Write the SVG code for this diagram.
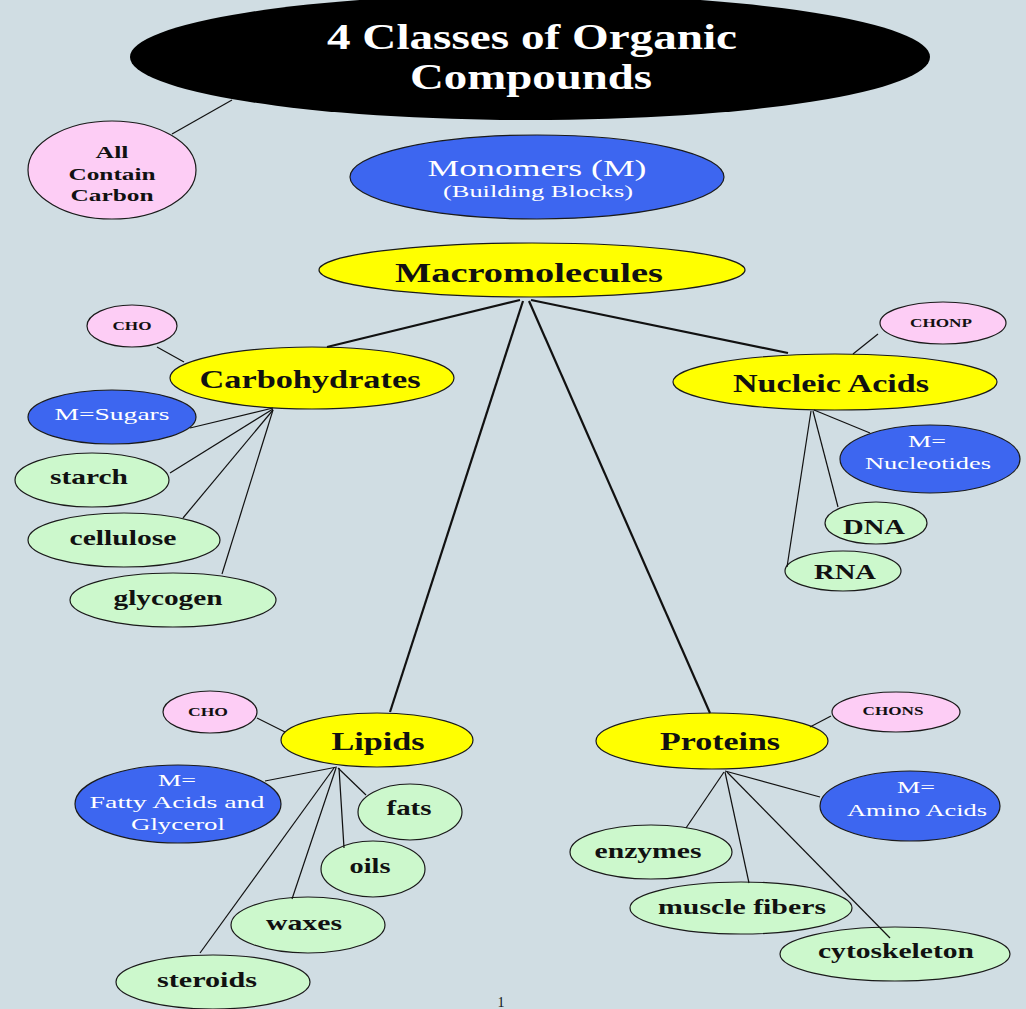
<svg xmlns="http://www.w3.org/2000/svg" width="1026" height="1009" viewBox="0 0 1026 1009">
<style>
.t{font-family:"Liberation Serif","Times New Roman",serif;text-anchor:middle}
.b{font-weight:bold}
.e{stroke:#1a1a1a;stroke-width:1.2}
.pink{fill:#fdcdf5}
.blue{fill:#3d66f0}
.yel{fill:#ffff00}
.grn{fill:#ccf8cc}
.w{fill:#ffffff}
.k{fill:#111111}
.c line{stroke:#111;stroke-width:1.2}
.c line.main{stroke-width:2.2}
</style>
<rect width="1026" height="1009" fill="#d0dde3"/>

<g id="title">
<ellipse cx="530" cy="57" rx="400" ry="63" fill="#000"/>
<text class="t b w" x="532" y="49" font-size="36" textLength="410" lengthAdjust="spacingAndGlyphs">4 Classes of Organic</text>
<text class="t b w" x="531" y="89" font-size="36" textLength="242" lengthAdjust="spacingAndGlyphs">Compounds</text>
</g>

<g id="all-contain-carbon">
<ellipse class="e pink" cx="112" cy="170" rx="84" ry="49"/>
<text class="t b k" x="112" y="158" font-size="17" textLength="33" lengthAdjust="spacingAndGlyphs">All</text>
<text class="t b k" x="112" y="180" font-size="17" textLength="87" lengthAdjust="spacingAndGlyphs">Contain</text>
<text class="t b k" x="112" y="201" font-size="17" textLength="83" lengthAdjust="spacingAndGlyphs">Carbon</text>
</g>

<g id="monomers">
<ellipse class="e blue" cx="537" cy="177" rx="187" ry="42"/>
<text class="t w" x="537" y="176" font-size="24" textLength="219" lengthAdjust="spacingAndGlyphs">Monomers (M)</text>
<text class="t w" x="538" y="197" font-size="17" textLength="190" lengthAdjust="spacingAndGlyphs">(Building Blocks)</text>
</g>

<g id="macromolecules">
<ellipse class="e yel" cx="532" cy="270" rx="213" ry="27"/>
<text class="t b k" x="529" y="282" font-size="27" textLength="268" lengthAdjust="spacingAndGlyphs">Macromolecules</text>
</g>

<g id="carbohydrates">
<ellipse class="e yel" cx="312" cy="378" rx="142" ry="31"/>
<text class="t b k" x="310" y="388" font-size="25" textLength="221" lengthAdjust="spacingAndGlyphs">Carbohydrates</text>
</g>
<g id="carb-cho">
<ellipse class="e pink" cx="132" cy="326" rx="45" ry="21"/>
<text class="t b k" x="132" y="330" font-size="12" textLength="39" lengthAdjust="spacingAndGlyphs">CHO</text>
</g>
<g id="m-sugars">
<ellipse class="e blue" cx="112" cy="417" rx="84" ry="27"/>
<text class="t w" x="112" y="420" font-size="17" textLength="115" lengthAdjust="spacingAndGlyphs">M=Sugars</text>
</g>
<g id="starch">
<ellipse class="e grn" cx="92" cy="480" rx="77" ry="27"/>
<text class="t b k" x="89" y="484" font-size="21" textLength="78" lengthAdjust="spacingAndGlyphs">starch</text>
</g>
<g id="cellulose">
<ellipse class="e grn" cx="124" cy="540" rx="96" ry="27"/>
<text class="t b k" x="123" y="545" font-size="21" textLength="107" lengthAdjust="spacingAndGlyphs">cellulose</text>
</g>
<g id="glycogen">
<ellipse class="e grn" cx="173" cy="600" rx="103" ry="27"/>
<text class="t b k" x="168" y="605" font-size="21" textLength="109" lengthAdjust="spacingAndGlyphs">glycogen</text>
</g>

<g id="nucleic-acids">
<ellipse class="e yel" cx="835" cy="382" rx="162" ry="28"/>
<text class="t b k" x="831" y="392" font-size="25" textLength="196" lengthAdjust="spacingAndGlyphs">Nucleic Acids</text>
</g>
<g id="chonp">
<ellipse class="e pink" cx="943" cy="323" rx="63" ry="21"/>
<text class="t b k" x="941" y="327" font-size="12" textLength="62" lengthAdjust="spacingAndGlyphs">CHONP</text>
</g>
<g id="m-nucleotides">
<ellipse class="e blue" cx="930" cy="459" rx="90" ry="34"/>
<text class="t w" x="927" y="447" font-size="17" textLength="38" lengthAdjust="spacingAndGlyphs">M=</text>
<text class="t w" x="928" y="469" font-size="17" textLength="126" lengthAdjust="spacingAndGlyphs">Nucleotides</text>
</g>
<g id="dna">
<ellipse class="e grn" cx="876" cy="523" rx="51" ry="21"/>
<text class="t b k" x="874" y="534" font-size="22" textLength="62" lengthAdjust="spacingAndGlyphs">DNA</text>
</g>
<g id="rna">
<ellipse class="e grn" cx="843" cy="571" rx="58" ry="20"/>
<text class="t b k" x="845" y="579" font-size="22" textLength="62" lengthAdjust="spacingAndGlyphs">RNA</text>
</g>

<g id="lipids">
<ellipse class="e yel" cx="377" cy="740" rx="96" ry="27"/>
<text class="t b k" x="378" y="750" font-size="25" textLength="93" lengthAdjust="spacingAndGlyphs">Lipids</text>
</g>
<g id="lipid-cho">
<ellipse class="e pink" cx="210" cy="712" rx="47" ry="21"/>
<text class="t b k" x="208" y="716" font-size="12" textLength="40" lengthAdjust="spacingAndGlyphs">CHO</text>
</g>
<g id="m-fatty-acids">
<ellipse class="e blue" cx="178" cy="804" rx="103" ry="39"/>
<text class="t w" x="177" y="786" font-size="17" textLength="38" lengthAdjust="spacingAndGlyphs">M=</text>
<text class="t w" x="177" y="808" font-size="17" textLength="175" lengthAdjust="spacingAndGlyphs">Fatty Acids and</text>
<text class="t w" x="178" y="830" font-size="17" textLength="94" lengthAdjust="spacingAndGlyphs">Glycerol</text>
</g>
<g id="fats">
<ellipse class="e grn" cx="410" cy="812" rx="52" ry="28"/>
<text class="t b k" x="409" y="815" font-size="21" textLength="45" lengthAdjust="spacingAndGlyphs">fats</text>
</g>
<g id="oils">
<ellipse class="e grn" cx="373" cy="869" rx="52" ry="28"/>
<text class="t b k" x="370" y="873" font-size="21" textLength="41" lengthAdjust="spacingAndGlyphs">oils</text>
</g>
<g id="waxes">
<ellipse class="e grn" cx="308" cy="925" rx="77" ry="28"/>
<text class="t b k" x="304" y="930" font-size="21" textLength="76" lengthAdjust="spacingAndGlyphs">waxes</text>
</g>
<g id="steroids">
<ellipse class="e grn" cx="213" cy="982" rx="97" ry="27"/>
<text class="t b k" x="207" y="987" font-size="21" textLength="100" lengthAdjust="spacingAndGlyphs">steroids</text>
</g>

<g id="proteins">
<ellipse class="e yel" cx="712" cy="741" rx="116" ry="28"/>
<text class="t b k" x="720" y="750" font-size="25" textLength="120" lengthAdjust="spacingAndGlyphs">Proteins</text>
</g>
<g id="chons">
<ellipse class="e pink" cx="896" cy="712" rx="64" ry="20"/>
<text class="t b k" x="893" y="715" font-size="12" textLength="61" lengthAdjust="spacingAndGlyphs">CHONS</text>
</g>
<g id="m-amino-acids">
<ellipse class="e blue" cx="910" cy="806" rx="90" ry="35"/>
<text class="t w" x="916" y="793" font-size="17" textLength="38" lengthAdjust="spacingAndGlyphs">M=</text>
<text class="t w" x="917" y="816" font-size="17" textLength="140" lengthAdjust="spacingAndGlyphs">Amino Acids</text>
</g>
<g id="enzymes">
<ellipse class="e grn" cx="651" cy="852" rx="81" ry="27"/>
<text class="t b k" x="648" y="858" font-size="21" textLength="107" lengthAdjust="spacingAndGlyphs">enzymes</text>
</g>
<g id="muscle-fibers">
<ellipse class="e grn" cx="741" cy="908" rx="111" ry="26"/>
<text class="t b k" x="742" y="914" font-size="21" textLength="168" lengthAdjust="spacingAndGlyphs">muscle fibers</text>
</g>
<g id="cytoskeleton">
<ellipse class="e grn" cx="895" cy="954" rx="115" ry="27"/>
<text class="t b k" x="896" y="958" font-size="21" textLength="156" lengthAdjust="spacingAndGlyphs">cytoskeleton</text>
</g>

<g id="page-number">
<text class="t k" x="501" y="1007" font-size="14">1</text>
</g>

<g id="connectors" class="c">
<line x1="232" y1="100" x2="172" y2="134"/>
<line class="main" x1="520" y1="300" x2="327" y2="347"/>
<line class="main" x1="531" y1="300" x2="788" y2="353"/>
<line class="main" x1="523" y1="301" x2="390" y2="712"/>
<line class="main" x1="529" y1="301" x2="710" y2="713"/>
<line x1="157" y1="347" x2="184" y2="362"/>
<line x1="273" y1="408" x2="190" y2="428"/>
<line x1="273" y1="409" x2="170" y2="473"/>
<line x1="273" y1="410" x2="183" y2="518"/>
<line x1="273" y1="410" x2="222" y2="574"/>
<line x1="878" y1="334" x2="853" y2="354"/>
<line x1="814" y1="410" x2="870" y2="433"/>
<line x1="813" y1="411" x2="838" y2="507"/>
<line x1="811" y1="411" x2="787" y2="567"/>
<line x1="257" y1="718" x2="285" y2="732"/>
<line x1="337" y1="767" x2="265" y2="781"/>
<line x1="338" y1="768" x2="366" y2="795"/>
<line x1="339" y1="768" x2="344" y2="848"/>
<line x1="336" y1="768" x2="292" y2="899"/>
<line x1="334" y1="768" x2="200" y2="953"/>
<line x1="810" y1="727" x2="831" y2="716"/>
<line x1="725" y1="771" x2="820" y2="797"/>
<line x1="724" y1="772" x2="686" y2="828"/>
<line x1="725" y1="772" x2="749" y2="883"/>
<line x1="727" y1="772" x2="890" y2="938"/>
</g>
</svg>
